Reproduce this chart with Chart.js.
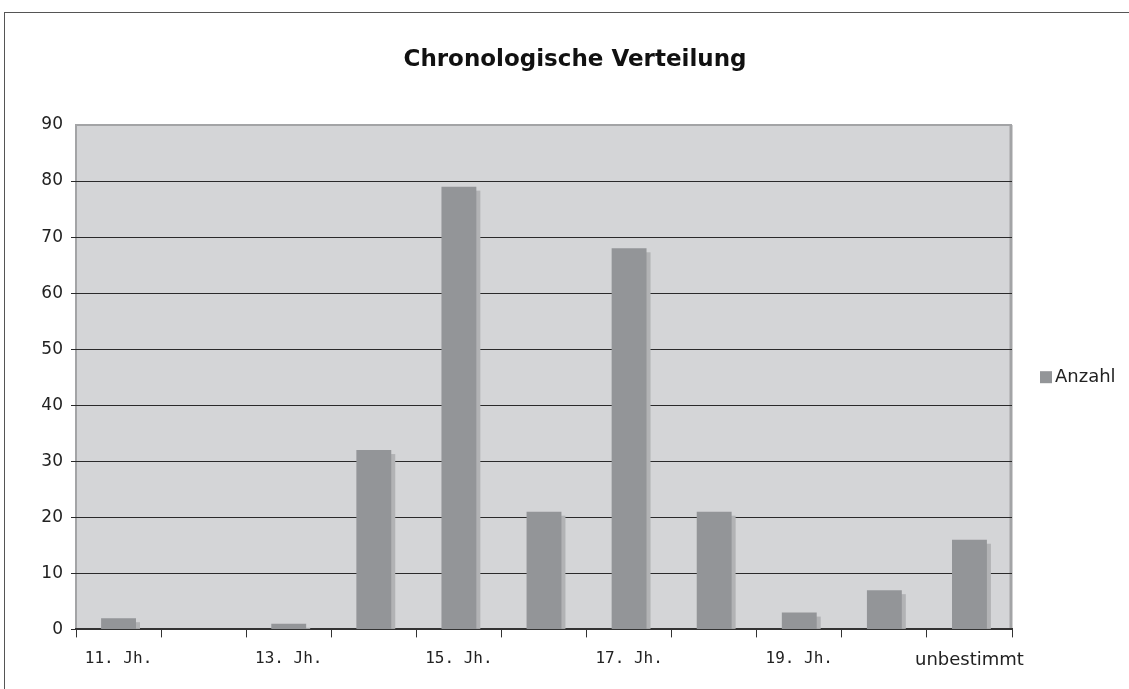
<!DOCTYPE html>
<html>
<head>
<meta charset="utf-8">
<script src="https://cdn.jsdelivr.net/npm/chart.js@4"></script>
<style>
  html, body { margin: 0; padding: 0; background: #fff; }
  #wrap { position: relative; width: 1129px; height: 689px; }
  #frame { position: absolute; left: 4px; top: 12px; right: -2px; bottom: -2px; border-left: 1px solid #555; border-top: 1px solid #555; pointer-events: none; }
  canvas { position: absolute; left: 0; top: 0; }
</style>
</head>
<body>
<div id="wrap">
  <canvas id="c" width="1129" height="689"></canvas>
  <div id="frame"></div>
</div>
<script>
const titleText = 'Chronologische Verteilung';
const seriesName = 'Anzahl';
const categories = ['11. Jh.', '12. Jh.', '13. Jh.', '14. Jh.', '15. Jh.', '16. Jh.', '17. Jh.', '18. Jh.', '19. Jh.', '20. Jh.', 'unbestimmt'];
const values = [2, 0, 1, 32, 79, 21, 68, 21, 3, 7, 16];
const yMin = 0, yMax = 90, yStep = 10;

const FONT = "'DejaVu Sans', Verdana, sans-serif";
const MONO = "'DejaVu Sans Mono', monospace";
const BAR = '#939598';
const SHADOW = '#b2b3b5';
const PLOT_BG = '#d4d5d7';

const plotPlugin = {
  id: 'plotDeco',
  beforeDraw(chart) {
    const { ctx, chartArea: a } = chart;
    ctx.save();
    ctx.fillStyle = PLOT_BG;
    ctx.fillRect(a.left, a.top, a.right - a.left, a.bottom - a.top);
    ctx.strokeStyle = '#a3a4a6';
    ctx.lineWidth = 2;
    ctx.beginPath();
    ctx.moveTo(a.left, a.bottom);
    ctx.lineTo(a.left, a.top);
    ctx.lineTo(a.right, a.top);
    ctx.stroke();
    ctx.lineWidth = 3;
    ctx.beginPath();
    ctx.moveTo(a.right - 1, a.top);
    ctx.lineTo(a.right - 1, a.bottom);
    ctx.stroke();
    // title
    ctx.fillStyle = '#111';
    ctx.font = 'bold 23px ' + FONT;
    ctx.textAlign = 'center';
    ctx.textBaseline = 'middle';
    ctx.fillText(titleText, 575, 60);
    ctx.restore();
  },
  beforeDatasetsDraw(chart) {
    const { ctx } = chart;
    const meta = chart.getDatasetMeta(0);
    ctx.save();
    ctx.fillStyle = SHADOW;
    meta.data.forEach(el => {
      const p = el.getProps(['x', 'y', 'base', 'width'], true);
      const h = p.base - p.y;
      if (h <= 0) return;
      const off = 4;
      const top = Math.min(p.y + off, p.base);
      ctx.fillRect(p.x - p.width / 2 + off, top, p.width, p.base - top);
    });
    ctx.restore();
  },
  afterDraw(chart) {
    const { ctx, chartArea: a } = chart;
    ctx.save();
    const cy = (a.top + a.bottom) / 2;
    const bx = a.right + 28;
    ctx.fillStyle = BAR;
    ctx.fillRect(bx, cy - 6, 12, 12);
    ctx.fillStyle = '#222';
    ctx.font = '18px ' + FONT;
    ctx.textBaseline = 'middle';
    ctx.textAlign = 'left';
    ctx.fillText(seriesName, bx + 15, cy);
    ctx.restore();
  }
};

new Chart(document.getElementById('c'), {
  type: 'bar',
  data: {
    labels: categories,
    datasets: [{
      label: seriesName,
      data: values,
      backgroundColor: BAR,
      borderWidth: 0,
      categoryPercentage: 1,
      barPercentage: 0.41
    }]
  },
  options: {
    responsive: false,
    animation: false,
    devicePixelRatio: 1,
    layout: { padding: { left: 0, right: 117, top: 125, bottom: 6 } },
    plugins: {
      legend: { display: false },
      tooltip: { enabled: false },
      title: { display: false }
    },
    scales: {
      x: {
        offset: true,
        grid: {
          offset: true,
          drawOnChartArea: false,
          drawTicks: true,
          tickLength: 8,
          color: '#333',
          lineWidth: 1
        },
        border: { display: true, color: '#333', width: 2 },
        ticks: {
          autoSkip: false,
          maxRotation: 0,
          minRotation: 0,
          padding: 12,
          color: '#222',
          font(ctx) {
            const lbl = categories[ctx.index] || '';
            return lbl.indexOf('Jh.') >= 0 ? { family: MONO, size: 16 } : { family: FONT, size: 18 };
          },
          callback(v, i) { return i % 2 === 0 ? categories[i] : ''; }
        }
      },
      y: {
        min: yMin,
        max: yMax,
        afterFit(scale) { scale.width = 76; },
        ticks: {
          stepSize: yStep,
          padding: 8,
          color: '#222',
          font: { family: FONT, size: 17 }
        },
        grid: {
          tickLength: 5,
          lineWidth: 1,
          color(ctx) { return (ctx.tick && ctx.tick.value === yMax) ? 'rgba(0,0,0,0)' : '#2a2a2a'; }
        },
        border: { display: false }
      }
    }
  },
  plugins: [plotPlugin]
});
</script>
</body>
</html>
